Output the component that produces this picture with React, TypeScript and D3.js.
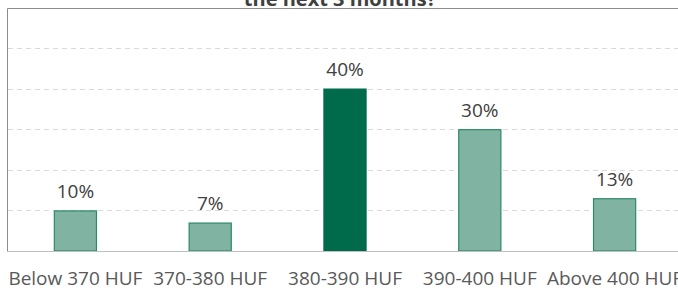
import React, { useEffect, useRef } from 'react';
import * as d3 from 'd3';

const categories = ['Below 370 HUF', '370-380 HUF', '380-390 HUF', '390-400 HUF', 'Above 400 HUF'];
const values = [10, 7, 40, 30, 13];
const highlighted = ['380-390 HUF'];
const yTicks = [0, 10, 20, 30, 40, 50];
const titleLine = 'the next 3 months?';

const App = () => {
    const chartRef = useRef<HTMLDivElement>(null);

    useEffect(() => {
        const width = 678;
        const height = 291;
        const plot = { left: 8, right: 682, top: 8, bottom: 251 };

        d3.select(chartRef.current).selectAll('*').remove();

        const svg = d3
            .select(chartRef.current)
            .append('svg')
            .attr('width', width)
            .attr('height', height)
            .style('position', 'absolute')
            .style('left', '0px')
            .style('top', '0px')
            .style('font-family', '"Open Sans", "Noto Sans", sans-serif');

        // scale X
        const x = d3
            .scaleBand()
            .domain(categories)
            .range([plot.left, plot.right])
            .paddingInner(0.68)
            .paddingOuter(0.34);

        // scale Y
        const y = d3
            .scaleLinear()
            .domain([0, 50])
            .range([plot.bottom, plot.bottom - 50 * 4.06]);

        // dashed gridlines
        svg
            .selectAll('.grid')
            .data(yTicks.filter((t) => t > 0))
            .join('line')
            .attr('x1', plot.left)
            .attr('x2', width)
            .attr('y1', (d) => Math.round(y(d)) + 0.5)
            .attr('y2', (d) => Math.round(y(d)) + 0.5)
            .attr('stroke', '#d9d9d9')
            .attr('stroke-dasharray', '5,4');

        // frame: top and left
        svg
            .append('path')
            .attr('d', `M${width},${plot.top + 0.5}H${plot.left - 0.5}V${plot.bottom}`)
            .attr('fill', 'none')
            .attr('stroke', '#8c8c8c');

        // bars
        svg
            .selectAll('.bar')
            .data(values)
            .join('rect')
            .attr('x', (d, i) => x(categories[i])! + 0.5)
            .attr('y', (d) => y(d) + 0.5)
            .attr('width', x.bandwidth() - 1)
            .attr('height', (d) => y(0) - y(d) - 0.5)
            .attr('fill', (d, i) => (highlighted.includes(categories[i]) ? '#006b4a' : '#80b3a1'))
            .attr('stroke', (d, i) => (highlighted.includes(categories[i]) ? '#006b4a' : '#2b8a66'))
            .attr('stroke-width', 1.2);

        // baseline
        svg
            .append('line')
            .attr('x1', plot.left - 1)
            .attr('x2', width)
            .attr('y1', plot.bottom + 0.5)
            .attr('y2', plot.bottom + 0.5)
            .attr('stroke', '#bfbfbf');

        // value labels
        svg
            .selectAll('.val')
            .data(values)
            .join('text')
            .attr('x', (d, i) => x(categories[i])! + x.bandwidth() / 2)
            .attr('y', (d) => y(d) - 12.5)
            .attr('text-anchor', 'middle')
            .attr('font-size', 19)
            .attr('fill', '#404040')
            .text((d) => `${d}%`);

        // category labels
        svg
            .selectAll('.cat')
            .data(categories)
            .join('text')
            .attr('x', (d) => x(d)! + x.bandwidth() / 2)
            .attr('y', 285)
            .attr('text-anchor', 'middle')
            .attr('font-size', 19)
            .attr('fill', '#595959')
            .text((d) => d);

        // title (cut at top)
        svg
            .append('text')
            .attr('x', 340)
            .attr('y', 5.5)
            .attr('text-anchor', 'middle')
            .attr('font-size', 20)
            .attr('font-weight', 'bold')
            .attr('fill', '#404040')
            .text(titleLine);
    }, []);

    return <div ref={chartRef}></div>;
};

export default App;
